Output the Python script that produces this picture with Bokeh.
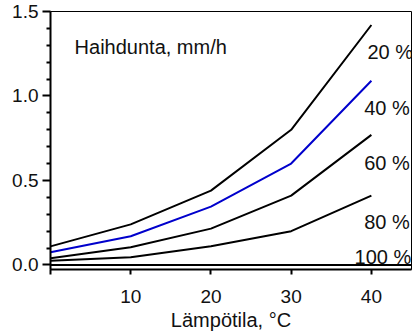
from bokeh.plotting import figure
from bokeh.models import Range1d, FixedTicker, Label, Span, Title
from bokeh.embed import file_html
from bokeh.resources import INLINE

# ---- data ----
temps = [0, 10, 20, 30, 40]
rh_20 = [0.11, 0.24, 0.44, 0.80, 1.42]
rh_40 = [0.075, 0.17, 0.345, 0.60, 1.09]
rh_60 = [0.04, 0.105, 0.215, 0.41, 0.77]
rh_80 = [0.025, 0.045, 0.11, 0.20, 0.41]
rh_100 = [0.0, 0.0, 0.0, 0.0, 0.0]
series_labels = ["20 %", "40 %", "60 %", "80 %", "100 %"]
x_ticks = [0, 10, 20, 30, 40]
x_tick_labels = ["", "10", "20", "30", "40"]
y_ticks = [0.0, 0.5, 1.0, 1.5]
y_tick_labels = ["0.0", "0.5", "1.0", "1.5"]
x_title = "Lämpötila, °C"
y_title = "Haihdunta, mm/h"

FONT = "Liberation Sans"
TXT = "#111111"
X0, X1 = 0, 45
Y0, Y1 = -0.027, 1.5

p = figure(width=415, height=336, output_backend="svg", toolbar_location=None,
           x_range=Range1d(X0, X1), y_range=Range1d(Y0, Y1),
           min_border_left=50, min_border_right=4, min_border_top=11,
           min_border_bottom=67)
p.grid.visible = False
p.outline_line_color = "black"
p.outline_line_width = 1
p.background_fill_color = "white"
p.border_fill_color = "white"

# zero line across the frame
p.add_layout(Span(location=0, dimension="width", line_color="black", line_width=2))

series = [rh_20, rh_40, rh_60, rh_80, rh_100]
colors = ["black", "#0000cc", "black", "black", "black"]
for vals, c in zip(series, colors):
    p.line(temps, vals, line_color=c, line_width=2)

# series labels (positions in data units)
label_pos = [(39.5, 1.263), (39.1, 0.93), (39.1, 0.606), (39.1, 0.255), (37.9, 0.045)]
for txt, (lx, ly) in zip(series_labels, label_pos):
    p.add_layout(Label(x=lx, y=ly, text=txt, text_font=FONT, text_font_size="20px",
                       text_baseline="middle", text_align="left", text_color=TXT))

p.add_layout(Label(x=3.0, y=1.292, text=y_title, text_font=FONT, text_font_size="20px",
                   text_baseline="middle", text_align="left", text_color=TXT))

# x axis
xa = p.xaxis[0]
xa.ticker = FixedTicker(ticks=x_ticks)
xa.major_label_overrides = {t: l for t, l in zip(x_ticks, x_tick_labels)}
xa.axis_line_width = 2
xa.major_tick_line_width = 2
xa.major_tick_in = 0
xa.major_tick_out = 5
xa.minor_tick_line_color = None
xa.major_label_text_font = FONT
xa.major_label_text_font_size = "19px"
xa.major_label_text_color = TXT
xa.major_label_standoff = 15

# axis title as a below-panel Title so it can sit slightly left of centre
p.add_layout(Title(text=x_title, align="center", offset=-10, standoff=2,
                   text_font=FONT, text_font_size="20px", text_font_style="normal",
                   text_color=TXT), "below")

# y axis
ya = p.yaxis[0]
minor = [round(0.1 * i, 1) for i in range(1, 15) if i % 5 != 0]
ya.ticker = FixedTicker(ticks=y_ticks, minor_ticks=minor)
ya.major_label_overrides = {t: l for t, l in zip(y_ticks, y_tick_labels)}
ya.axis_line_width = 2
ya.major_tick_line_width = 2
ya.major_tick_in = 0
ya.major_tick_out = 8
ya.minor_tick_line_width = 2
ya.minor_tick_in = 0
ya.minor_tick_out = 4
ya.major_label_text_font = FONT
ya.major_label_text_font_size = "19px"
ya.major_label_text_color = TXT
ya.major_label_standoff = 4

open("out.html", "w").write(file_html(p, INLINE))
